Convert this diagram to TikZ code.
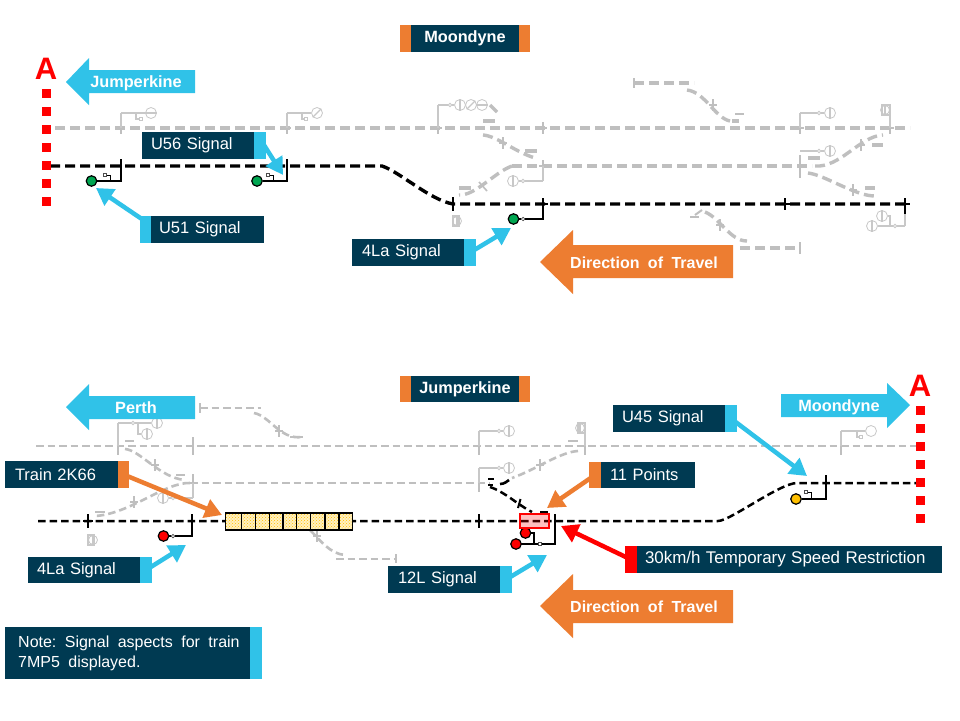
\documentclass[tikz,border=0pt]{standalone}
\usepackage{fontspec}
\setmainfont[WordSpace=1.9]{Liberation Sans}
\usetikzlibrary{arrows.meta,patterns}
\definecolor{navy}{HTML}{003A52}
\definecolor{sky}{HTML}{30C2E8}
\definecolor{orangeb}{HTML}{ED7D31}
\definecolor{track}{HTML}{BFBFBF}
\definecolor{sig}{HTML}{C8C8C8}
\definecolor{sgreen}{HTML}{00A651}
\definecolor{syellow}{HTML}{FFC000}
\definecolor{sred}{HTML}{FF0000}
\definecolor{cream}{HTML}{FFF0C0}
\tikzset{
 tb/.style={draw=black,line width=3.4pt,dash pattern=on 10pt off 5pt},
 tbt/.style={draw=black,line width=2.5pt,dash pattern=on 7.5pt off 4pt},
 tg/.style={draw=track,line width=3.4pt,dash pattern=on 10pt off 5pt},
 tgt/.style={draw=track,line width=2.2pt,dash pattern=on 7.5pt off 4pt},
 tickb/.style={draw=black,line width=1.6pt},
 tickg/.style={draw=track,line width=1.6pt},
 stubg/.style={draw=track,line width=3.2pt},
 stubk/.style={draw=black,line width=2.6pt},
 wireg/.style={draw=sig,line width=1.1pt},
 wirek/.style={draw=black,line width=1.4pt},
 headg/.style={circle,draw=sig,line width=.8pt,fill=white,minimum size=11pt,inner sep=0pt},
 headk/.style={circle,draw=black,line width=1.2pt,minimum size=10.5pt,inner sep=0pt},
 smallg/.style={rectangle,draw=sig,line width=.8pt,fill=white,minimum size=3.5pt,inner sep=0pt},
 smallk/.style={rectangle,draw=black!70,line width=.7pt,fill=white,minimum size=3.5pt,inner sep=0pt},
 callbox/.style={rectangle,draw=none,inner ysep=0pt,text=white,align=left,font=\fontsize{16.5}{19}\selectfont},
 bigtxt/.style={text=white,inner sep=0pt,font=\fontsize{16.3}{19}\selectfont\bfseries},
 dirtxt/.style={text=white,inner sep=0pt,font=\fontsize{16}{19}\selectfont\bfseries},
 callsky/.style={draw=sky,line width=4.5pt,-{Triangle[length=17pt,width=19pt]}},
 callorange/.style={draw=orangeb,line width=4.5pt,-{Triangle[length=17pt,width=19pt]}},
 callred/.style={draw=sred,line width=4.5pt,-{Triangle[length=17pt,width=19pt]}},
 redsq/.style={rectangle,fill=sred,minimum size=9pt,inner sep=0pt},
 bigA/.style={text=sred,inner sep=0pt,font=\fontsize{31}{33}\selectfont\bfseries},
}
% name, x1, y1, x2, y2, colour, left inset, text
\newcommand{\bx}[8]{%
 \pgfmathsetmacro{\cxv}{(#2+#4)/2}\pgfmathsetmacro{\cyv}{(#3+#5)/2}%
 \pgfmathsetmacro{\wv}{#4-#2}\pgfmathsetmacro{\hv}{#5-#3}%
 \node[callbox,fill=#6,minimum width=\wv pt,minimum height=\hv pt,text width=\wv pt,inner xsep=0pt] (#1) at (\cxv,\cyv) {\hspace*{#7pt}\raisebox{-1pt}{#8}};}
\newcommand{\gbar}[2]{\draw[tickg] (#1,#2-6) -- (#1,#2+6);\draw[tickg] (#1-4,#2) -- (#1+4,#2);}
\newcommand{\kbar}[2]{\draw[tickb] (#1,#2-7) -- (#1,#2+7);}
\newcommand{\kcross}[2]{\draw[tickb,line width=2pt] (#1,#2-6) -- (#1,#2+6);\draw[tickb,line width=2.4pt] (#1-5,#2) -- (#1+5,#2);}
\begin{document}
\begin{tikzpicture}[x=1pt,y=-1pt]
\useasboundingbox (0,0) rectangle (960,720);
\fill[white] (0,0) rectangle (960,720);

%%%% TOP GRAY TRACKS
\draw[tg] (55,128) -- (910,128);
\draw[tg] (512,166) -- (812,166);
\foreach \x in {121,287,438,543,800,890} {\gbar{\x}{128}}
\gbar{543}{166}
\draw[tickg] (800,155) -- (800,178);
% crossovers
\draw[tg] (483,135) .. controls (497,136) and (515,152) .. (535,158);
\draw[tg] (512,166) .. controls (495,172) and (475,196) .. (459,195);
\draw[stubg] (459,188) -- (471,188);
\draw[stubg] (483,121) -- (495,121);
\draw[stubg] (525,151) -- (537,151);
\draw[stubg] (490,105) -- (497,112);
\gbar{503}{143}
\draw[tickg] (479,182) -- (487,191);
\draw[tg] (634,83) -- (694,83);
\draw[tickg] (634,78) -- (634,88);
\draw[tg] (687,90) .. controls (705,92) and (715,118) .. (730,121);
\gbar{713}{105}
\draw[stubg,line width=2pt] (735,114) -- (744,114);
\draw[stubg] (732,121) -- (739,121);
\draw[tg] (815,166) .. controls (840,168) and (860,136) .. (883,135);
\gbar{861}{145}
\draw[stubg] (872,145) -- (883,145);
\draw[stubg] (808,158) -- (820,158);
\draw[tg] (808,173) .. controls (825,175) and (855,196) .. (875,196);
\gbar{853}{190}
\draw[stubg] (865,188) -- (875,188);
\draw[stubg,line width=2pt] (690,217) -- (699,217);
\draw[stubg,line width=2pt] (695,215) -- (702,210);
\draw[tg] (705,212) .. controls (720,218) and (730,241) .. (747,241);
\gbar{720}{225}
\draw[tg] (740,248) -- (800,248);
\draw[tickg] (800,242) -- (800,254);
%% gray signals top
\node[headg] (h1) at (151,113) {}; \draw[wireg] (121,113) -- (h1); \draw[wireg] (121,113) -- (121,128);
\node[smallg] (s1) at (141,119) {}; \draw[wireg] (136,113) -- (136,119) -- (s1);
\draw[wireg] (h1.west) -- (h1.east);
\node[headg] (h2) at (317,113) {}; \draw[wireg] (287,113) -- (h2); \draw[wireg] (287,113) -- (287,128);
\node[smallg] (s2) at (306,119) {}; \draw[wireg] (302,113) -- (302,119) -- (s2);
\draw[wireg] (h2.south west) -- (h2.north east);
\node[headg] (h3a) at (460,105) {}; \node[headg] (h3b) at (471,105) {}; \node[headg] (h3c) at (482,105) {};
\node[smallg,circle] (s3) at (450,105) {};
\draw[wireg] (438,105) -- (s3) -- (h3a); \draw[wireg] (438,105) -- (438,128);
\draw[wireg] (h3a.north) -- (h3a.south);\draw[wireg] (h3b.south west) -- (h3b.north east);\draw[wireg] (h3c.west) -- (h3c.east);
\node[headg] (h4) at (513,181) {}; \node[smallg,circle] (s4) at (523,181) {};
\draw[wireg] (543,181) -- (s4) -- (h4); \draw[wireg] (543,181) -- (543,166); \draw[wireg] (h4.north) -- (h4.south);
\node[headg,minimum size=9pt] (h5) at (457,221) {}; \draw[wireg] (h5.north) -- (h5.south); \draw[wireg] (453,216) rectangle (459,226);
\node[headg] (h6) at (830,113) {}; \node[smallg,circle] (s6) at (819,113) {};
\draw[wireg] (800,113) -- (s6) -- (h6); \draw[wireg] (800,113) -- (800,128); \draw[wireg] (h6.north) -- (h6.south);
\node[headg] (h7) at (830,151) {}; \node[smallg,circle] (s7) at (819,151) {};
\draw[wireg] (800,151) -- (s7) -- (h7); \draw[wireg] (h7.north) -- (h7.south);
\node[headg,minimum size=9pt] (h8) at (885,110) {}; \draw[wireg] (h8.north) -- (h8.south); \draw[wireg] (882,105) rectangle (890,115); \draw[wireg] (890,115) -- (890,128);
\node[headg] (h9) at (872,226) {}; \node[headg] (h10) at (882,216) {}; \node[smallg,circle] (s9) at (895,226) {};
\draw[wireg] (905,226) -- (s9) -- (h9); \draw[wireg] (s9) -- (890,226) -- (890,216) -- (h10);
\draw[wireg] (h9.north) -- (h9.south); \draw[wireg] (h10.north) -- (h10.south);

%%%% TOP BLACK TRACK
\draw[tb] (50,166) -- (382,166) .. controls (400,172) and (430,200) .. (453,204) -- (910,204);
\kbar{121}{166} \kbar{287}{166} \kbar{453}{204}
\kcross{543}{204} \kcross{785}{204} \kcross{905}{204}
\draw[wirek,line width=2pt] (905,204) -- (905,214);
\draw[wireg] (905,214) -- (905,226);
% signals top black
\node[headk,fill=sgreen] (u51) at (91.5,181) {};
\draw[wirek] (u51) -- (121,181) -- (121,166);
\node[smallk] (u51s) at (105,175) {}; \draw[wirek,line width=.8pt] (u51s) -- (110,175) -- (110,181);
\node[headk,fill=sgreen] (u56) at (257,181) {};
\draw[wirek] (u56) -- (287,181) -- (287,166);
\node[smallk] (u56s) at (268,175) {}; \draw[wirek,line width=.8pt] (u56s) -- (273,175) -- (273,181);
\node[headk,fill=sgreen] (la4) at (513.5,219) {}; \node[smallk,circle] (la4s) at (523,219) {};
\draw[wirek] (la4) -- (la4s) -- (543,219) -- (543,204);

%%%% BOTTOM GRAY
\draw[tgt] (36,446) -- (920,446);
\draw[tgt] (190,483) -- (490,483);
\draw[tgt] (200,408) -- (261,408); \draw[tickg] (200,403) -- (200,413);
\draw[tgt,line width=2.6pt] (254,413) .. controls (270,416) and (280,440) .. (302,437);
\gbar{279}{431}
\draw[stubg,line width=2pt] (290,437) -- (303,437);
\foreach \x in {118,193,479,585,841} {\draw[tickg,line width=1.4pt] (\x,437) -- (\x,455);}
\draw[tgt,line width=2.6pt] (125,449) .. controls (140,450) and (160,478) .. (185,480);
\gbar{155}{465}
\draw[stubg,line width=2pt] (176,475) -- (185,475);
\draw[stubg,line width=2pt] (125,441) -- (134,441);
\draw[tgt,line width=2.6pt] (190,483) .. controls (165,482) and (130,514) .. (95,516);
\gbar{134}{502}
\draw[stubg,line width=2pt] (95,512) -- (105,512);
\draw[tickg,line width=1.6pt] (193,474) -- (193,492);
\draw[tgt,line width=2.6pt] (578,451) .. controls (560,452) and (535,470) .. (512,478);
\gbar{540}{465}
\draw[stubg,line width=2pt] (568,441) -- (578,441);
\draw[tgt,line width=2.6pt] (310,530) .. controls (320,540) and (330,554) .. (345,555);
\gbar{317}{536}
\draw[tgt,line width=2.6pt] (336,559) -- (396,559); \draw[tickg] (396,554) -- (396,563);
\draw[tickg,line width=1.4pt] (479,474) -- (479,492);
%% gray signals bottom
\node[headg] (b1) at (157,423) {}; \node[headg] (b2) at (147,434) {}; \node[smallg,circle] (b1s) at (133,423) {};
\draw[wireg] (118,423) -- (b1s) -- (b1); \draw[wireg] (118,423) -- (118,446); \draw[wireg] (138,423) -- (138,434) -- (b2);
\draw[wireg] (b1.north) -- (b1.south); \draw[wireg] (b2.north) -- (b2.south);
\node[headg] (b3) at (163,498) {}; \node[smallg,circle] (b3s) at (173,498) {};
\draw[wireg] (193,498) -- (b3s) -- (b3); \draw[wireg] (193,498) -- (193,483); \draw[wireg] (b3.north) -- (b3.south);
\node[headg,minimum size=9pt] (b4) at (93,540) {}; \draw[wireg] (b4.north) -- (b4.south); \draw[wireg] (88,535) rectangle (94,545);
\node[headg] (b5) at (509,431) {}; \node[smallg,circle] (b5s) at (499,431) {};
\draw[wireg] (479,431) -- (b5s) -- (b5); \draw[wireg] (479,431) -- (479,446); \draw[wireg] (b5.north) -- (b5.south);
\node[headg] (b6) at (509,468) {}; \node[smallg,circle] (b6s) at (499,468) {};
\draw[wireg] (479,468) -- (b6s) -- (b6); \draw[wireg] (479,468) -- (479,483); \draw[wireg] (b6.north) -- (b6.south);
\node[headg,minimum size=9pt] (b7) at (580,428) {}; \draw[wireg] (b7.north) -- (b7.south); \draw[wireg] (578,423) rectangle (585,433); \draw[wireg] (585,433) -- (585,446);
\node[headg] (b8) at (871,431) {}; \draw[wireg] (841,431) -- (b8); \draw[wireg] (841,431) -- (841,446);
\node[smallg] (b8s) at (861,437) {}; \draw[wireg] (857,431) -- (857,437) -- (b8s);

%%%% BOTTOM BLACK
\draw[tbt] (38,521) -- (718,521) .. controls (730,521) and (780,483) .. (797,483) -- (920,483);
\kbar{88}{521} \kbar{192}{521} \kbar{479}{521} \kbar{555}{521}
\draw[tickb] (826,475) -- (826,491);
\draw[tickb] (83,521) -- (93,521);
\draw[tbt] (490,487) .. controls (505,492) and (518,505) .. (532,512);
\draw[tickb,line width=2pt] (520.5,499) -- (518,508);
\draw[stubk] (500,484) .. controls (505,484) and (507,481) .. (509,480);
\draw[stubk] (488,485) -- (493,485);
\draw[stubk] (488,479) -- (494,479);
\draw[stubk] (540,512) -- (548,512);
% signals
\node[headk,fill=sred] (la4b) at (163.5,536) {}; \node[smallk,circle] (la4bs) at (173,536) {};
\draw[wirek] (la4b) -- (la4bs) -- (192,536) -- (192,521);
\draw[wirek] (555,521) -- (555,544) -- (516,544);
\node[smallk] (l12s) at (540,544) {};
\draw[wirek] (531,533) -- (534,533) -- (534,544);
\node[headk,fill=sred] (l12a) at (525.5,533) {};
\node[headk,fill=sred] (l12b) at (516,544) {};
\node[headk,fill=syellow] (u45) at (796,499) {};
\draw[wirek] (u45) -- (826,499) -- (826,483);
\node[smallk] (u45s) at (806,492) {}; \draw[wirek,line width=.8pt] (u45s) -- (811,492) -- (811,499);
% points box
\node[rectangle,draw=sred,line width=2pt,fill=sred,fill opacity=.25,minimum width=29pt,minimum height=14pt,inner sep=0pt] (pts) at (534,520.5) {};
% train
\fill[cream] (225.5,513) rectangle (352.5,530);
\fill[pattern=crosshatch dots,pattern color=syellow] (225.5,513) rectangle (352.5,530);
\node[rectangle,draw=black,line width=1.6pt,minimum width=127pt,minimum height=17pt,inner sep=0pt] (train) at (289,521.5) {};
\foreach \x in {241.7,255.7,269.3,283,296.7,310.7,325,339} {\draw[black,line width=1.4pt] (\x,513) -- (\x,530);}

%%%% RED A LINES
\foreach \y in {93,111,129,147,165,183,201} {\node[redsq] at (46,\y) {};}
\foreach \y in {410,428,446,464,482,500,518} {\node[redsq] at (920,\y) {};}
\node[bigA] (atop) at (46,69) {A};
\node[bigA] (abot) at (920,386) {A};

%%%% BIG ARROWS
\fill[sky] (66,82) -- (89,58) -- (89,70) -- (195,70) -- (195,93) -- (89,93) -- (89,105) -- cycle;
\node[bigtxt] (t1) at (136,83) {Jumperkine};
\fill[sky] (66,407) -- (89,384) -- (89,396) -- (195,396) -- (195,419) -- (89,419) -- (89,430) -- cycle;
\node[bigtxt] (t2) at (136,408) {Perth};
\fill[sky] (910,405) -- (887,383) -- (887,394) -- (781,394) -- (781,417) -- (887,417) -- (887,428) -- cycle;
\node[bigtxt] (t3) at (839,407) {Moondyne};
\fill[orangeb] (540,262) -- (573,230) -- (573,245) -- (733,245) -- (733,278) -- (573,278) -- (573,294) -- cycle;
\node[dirtxt] (t4) at (644,263) {Direction of Travel};
\fill[orangeb] (540,606) -- (573,574) -- (573,590) -- (733,590) -- (733,623) -- (573,623) -- (573,638) -- cycle;
\node[dirtxt] (t5) at (644,607) {Direction of Travel};

%%%% TITLE BOXES
\bx{mo}{400}{25}{530}{52}{orangeb}{0}{}
\node[callbox,fill=navy,minimum width=108pt,minimum height=27pt,inner xsep=0pt,font=\fontsize{16.3}{19}\selectfont\bfseries] (mon) at (465,38.5) {\raisebox{-1pt}{Moondyne}};
\bx{ju}{400}{376}{530}{402}{orangeb}{0}{}
\node[callbox,fill=navy,minimum width=108pt,minimum height=26pt,inner xsep=0pt,font=\fontsize{16.3}{19}\selectfont\bfseries] (jum) at (465,389) {\raisebox{-1pt}{Jumperkine}};

%%%% CALLOUTS
\bx{u56a}{254}{132}{266}{159}{sky}{0}{}
\bx{u56b}{142}{132}{254}{159}{navy}{9}{U56 Signal}
\draw[callsky] ([xshift=3pt,yshift=2pt]u56a.center) -- (283,175);
\bx{u51a}{140}{216}{151}{243}{sky}{0}{}
\bx{u51b}{151}{216}{264}{243}{navy}{8}{U51 Signal}
\draw[callsky] ([yshift=8pt]u51a.center) -- (96,188);
\bx{l4a}{464}{239}{476}{266}{sky}{0}{}
\bx{l4b}{352}{239}{464}{266}{navy}{10}{4La Signal}
\draw[callsky] (l4a.center) -- (511,228);
\bx{u45a}{725}{405}{737}{432}{sky}{0}{}
\bx{u45b}{613}{405}{725}{432}{navy}{9}{U45 Signal}
\draw[callsky] (u45a.center) -- (807,476);
\bx{t2a}{118}{461}{129}{488}{orangeb}{0}{}
\bx{t2b}{5}{461}{118}{488}{navy}{10}{Train 2K66}
\draw[callorange] (t2a.center) -- (222,515);
\bx{p11a}{589}{462}{601}{488}{orangeb}{0}{}
\bx{p11b}{601}{462}{695}{488}{navy}{9}{11 Points}
\draw[callorange] (p11a.center) -- (547,508);
\bx{tsra}{625}{546}{637}{573}{sred}{0}{}
\bx{tsrb}{637}{546}{942}{573}{navy}{8}{\fontsize{16.9}{19}\selectfont 30km/h Temporary Speed Restriction}
\draw[callred] (tsra.center) -- (561,526);
\bx{l4ca}{140}{557}{152}{583}{sky}{0}{}
\bx{l4cb}{28}{557}{140}{583}{navy}{9}{4La Signal}
\draw[callsky] (l4ca.center) -- (186,545);
\bx{l12a}{500}{566}{512}{593}{sky}{0}{}
\bx{l12b}{388}{566}{500}{593}{navy}{10}{12L Signal}
\draw[callsky] (l12a.center) -- (547,555);
\bx{notea}{250}{627}{262}{679}{sky}{0}{}
\bx{noteb}{5}{627}{250}{679}{navy}{0}{}
\node[anchor=north west,inner sep=0pt,text=white,align=left,font=\fontsize{16}{20.5}\selectfont\frenchspacing] (note) at (18,635.5) {Note: Signal aspects for train\\7MP5 displayed.};
\end{tikzpicture}
\end{document}
